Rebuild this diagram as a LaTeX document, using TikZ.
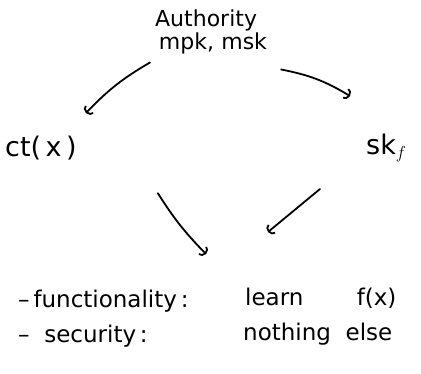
\documentclass[tikz,border=0pt]{standalone}
\usepackage{fontspec}
\setmainfont{DejaVu Sans}
\usetikzlibrary{arrows.meta}
\begin{document}
\begin{tikzpicture}[x=1pt,y=-1pt,
  hand/.style={font=\fontsize{23}{27}\selectfont, inner sep=0pt, anchor=west},
  big/.style={font=\fontsize{27}{31}\selectfont, inner sep=0pt, anchor=west},
  link/.style={line width=1.8pt, line cap=round, -{Arc Barb[length=5pt,width=12pt,line width=1.8pt]}}]
\useasboundingbox (0,0) rectangle (421,373);
\node[inner sep=0pt, anchor=west, align=left] (auth) at (155,32)
  {{\fontsize{22}{25}\selectfont Authority}\\[1pt]{\fontsize{22}{25}\selectfont \,mpk,\,\,msk}};
\node[big] (ct) at (5,148) {ct(\,x\,)};
\node[big] (sk) at (366,148) {sk$_f$};
\coordinate (ctin) at (86,113);
\coordinate (skin) at (350,96);
\coordinate (goalL) at (206,254);
\coordinate (goalR) at (268,232);
\draw[link] (auth.south west) ++(-5,8) coordinate (a1) to[bend right=8] (ctin);
\draw[link] (auth.south east) ++(14,15) coordinate (a2) to[bend left=10] (skin);
\draw[link] (ct.south east) ++(81,33) coordinate (c1) to[bend right=6] (goalL);
\draw[link] (sk.south west) ++(-46,27) coordinate (s1) -- (goalR);
\node[hand] (func) at (18,301) {–\,functionality\,:};
\node[hand] (sec) at (18,336) {–\ \ security\,:};
\node[hand] (learn) at (245,298) {learn \qquad f(x)};
\node[hand] (noth) at (243,334) {nothing\ \ else};
\end{tikzpicture}
\end{document}
